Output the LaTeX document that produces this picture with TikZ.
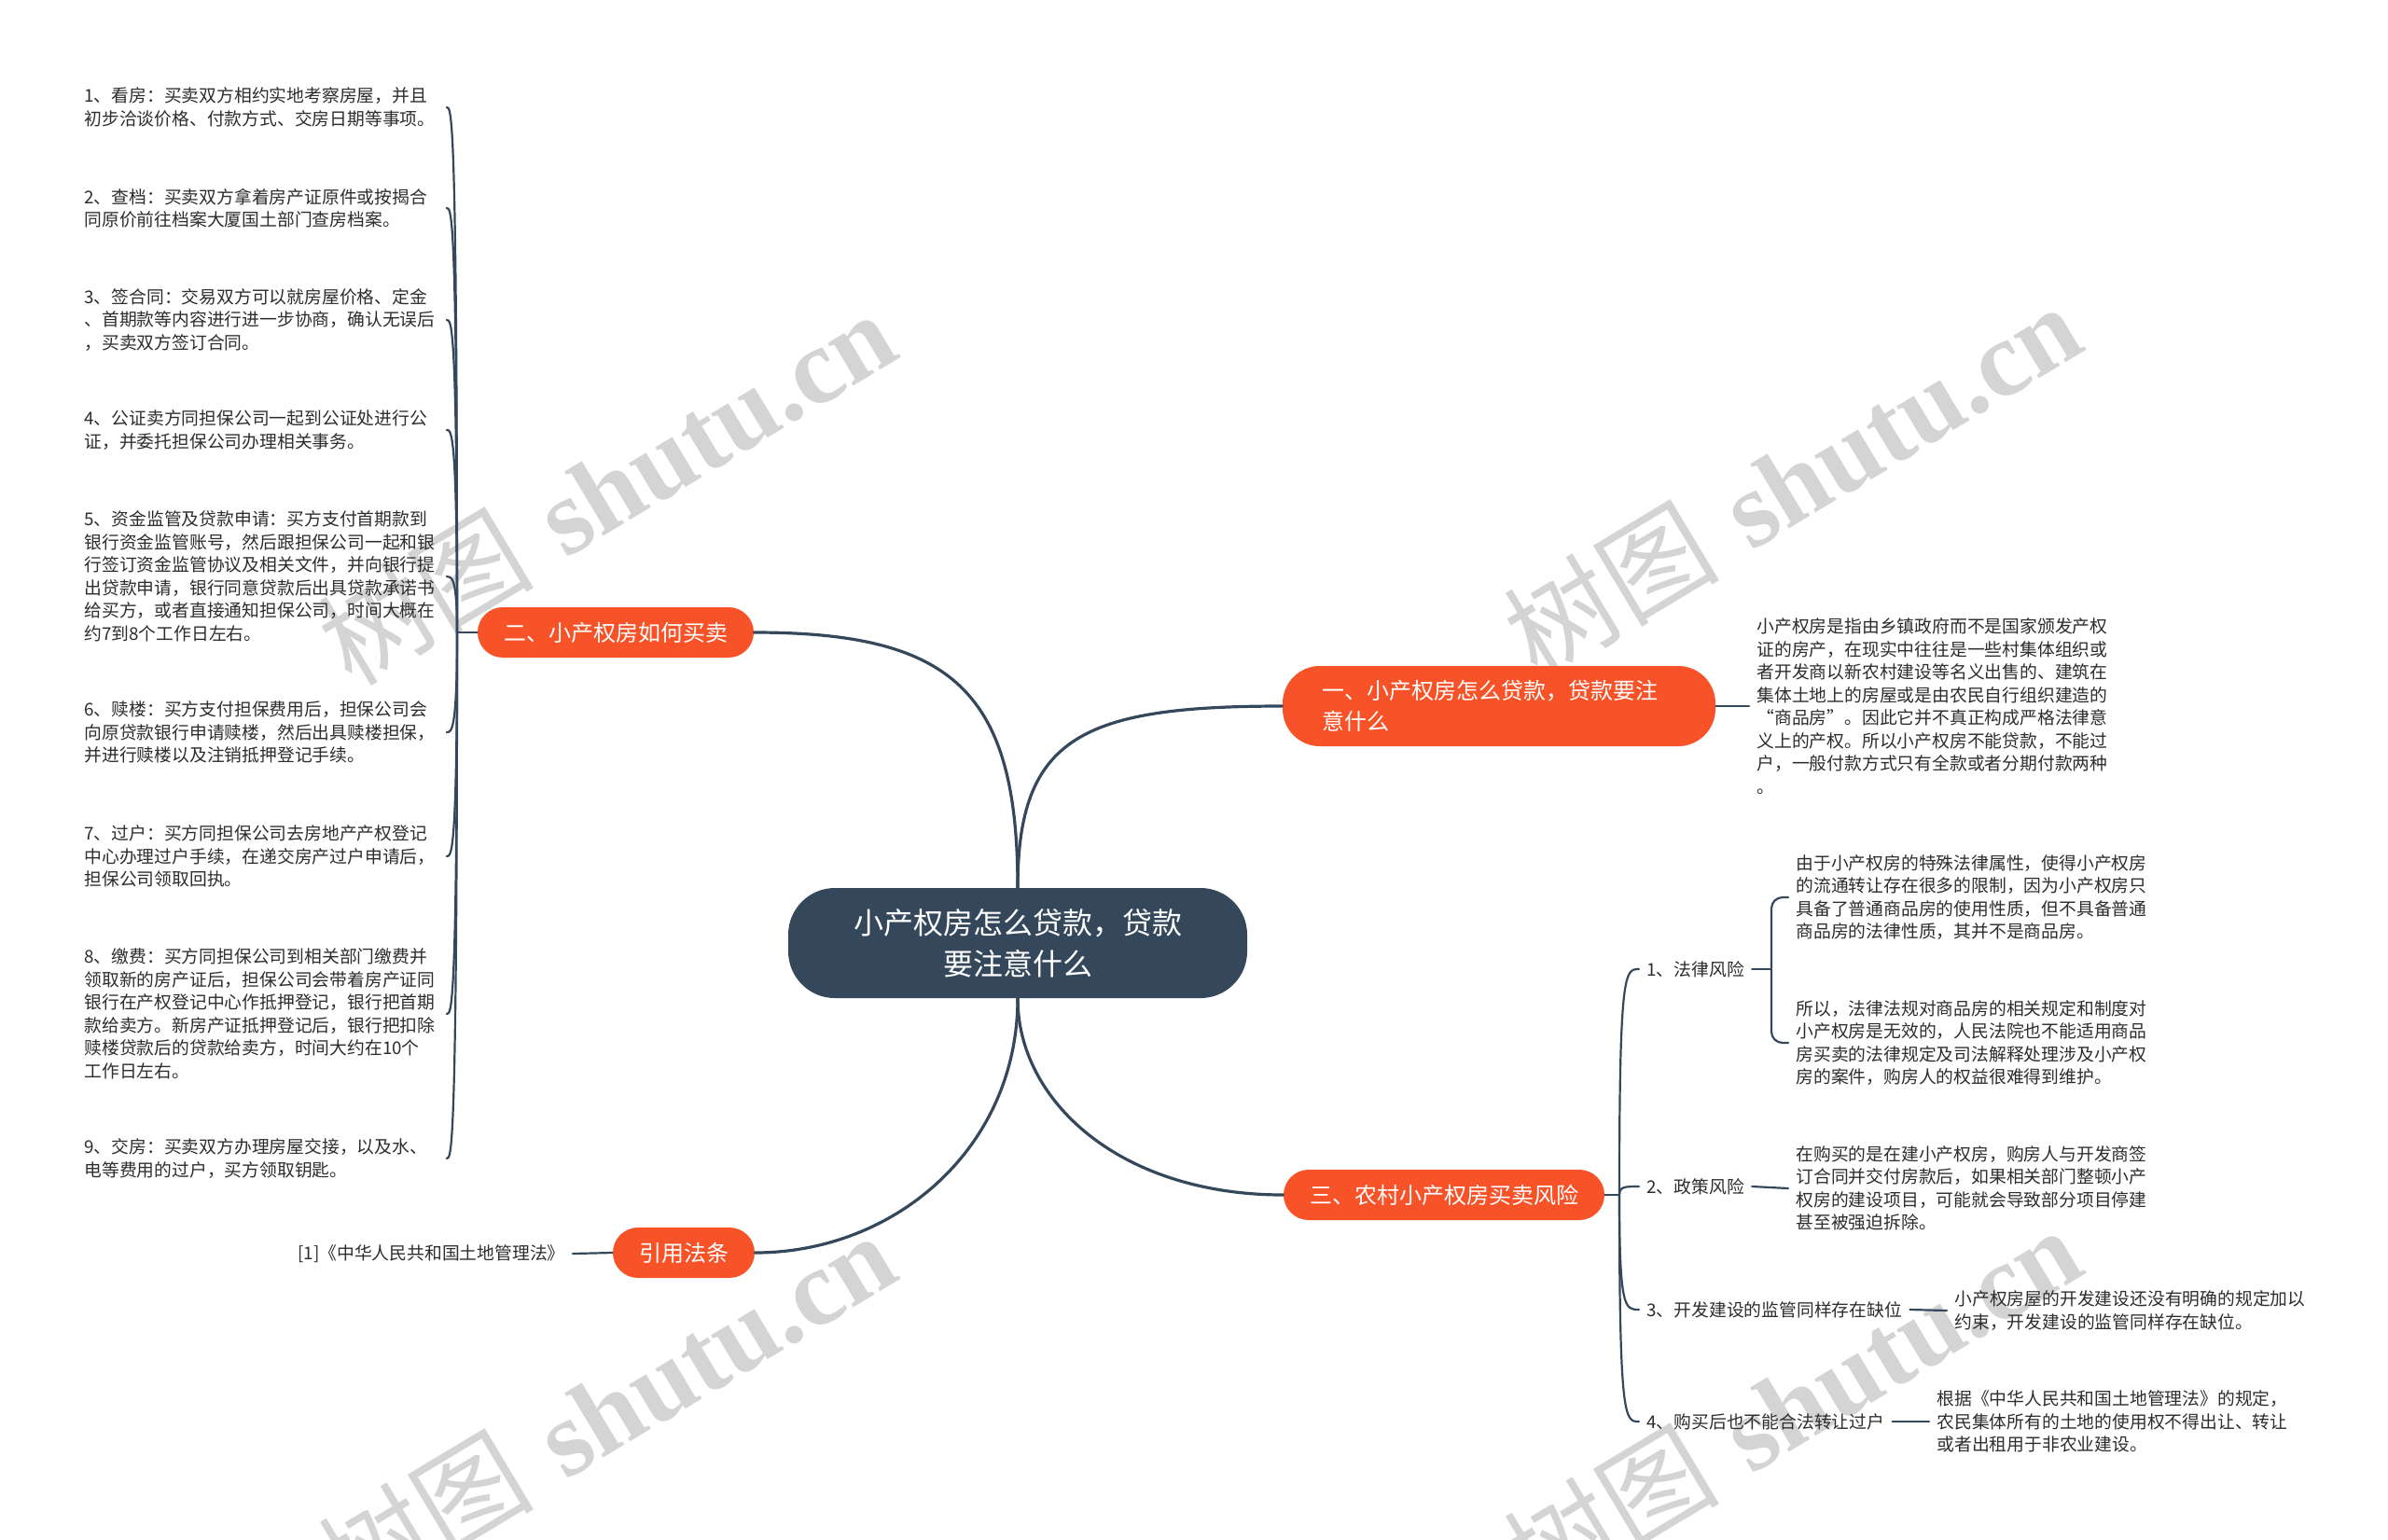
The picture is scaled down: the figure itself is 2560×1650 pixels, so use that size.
\documentclass[tikz,border=0pt]{standalone}
\usepackage{fontspec}
\newfontfamily\cjk{Noto Sans CJK SC}
\newfontfamily\wmserif{Liberation Serif}
\definecolor{slate}{RGB}{53,72,91}
\definecolor{flame}{RGB}{247,82,40}
\definecolor{ink}{RGB}{45,45,45}
\begin{document}
\begin{tikzpicture}[x=0.5pt, y=-0.5pt, line join=round, line cap=round,
	main/.style={fill=slate, text=white, rounded corners=25pt, font=\cjk\fontsize{16}{22}\selectfont, align=center, inner xsep=35pt, minimum height=59pt},
	topic/.style={fill=flame, text=white, rounded corners=13.5pt, font=\cjk\fontsize{12}{16.5}\selectfont, inner xsep=14pt, minimum height=27pt},
	leaf/.style={text=ink, font=\cjk\fontsize{9.4}{12.25}\selectfont, align=left, inner xsep=4pt, inner ysep=2pt},
	link/.style={draw=slate, line width=1.6pt},
	twig/.style={draw=slate, line width=1.1pt},
	wmark/.style={text=black!17, font=\fontsize{58}{62}\selectfont, rotate=31}]
	\useasboundingbox[fill=white] (0,0) rectangle (2560,1650);
	\foreach \n/\p in {1/{(650,522)},2/{(1921,514)},3/{(650,1510)},4/{(1921,1504)}}
	\node[wmark] (wm\n) at \p {{\cjk 树图} {\wmserif\bfseries shutu.cn}};
	\node[main] (root) at (1091,1011) {小产权房怎么贷款，贷款\\要注意什么};
	\node[topic, text width=190pt, align=left, inner xsep=21pt, minimum height=43pt, rounded corners=20pt] (t1) at (1607,757) {一、小产权房怎么贷款，贷款要注\\意什么};
	\node[topic] (t2) at (660,678) {二、小产权房如何买卖};
	\node[topic] (t3) at (1548,1281) {三、农村小产权房买卖风险};
	\node[topic] (t4) at (733,1343) {引用法条};
	\draw[link] (root.north) .. controls (1091,790) and (1160,757) .. (t1.west);
	\draw[link] (root.north) .. controls (1091,740) and (1020,678) .. (t2.east);
	\draw[link] (root.south) .. controls (1091,1180) and (1200,1281) .. (t3.west);
	\draw[link] (root.south) .. controls (1091,1230) and (960,1343) .. (t4.east);
	\node[leaf, anchor=west] (d1) at (1875,757) {小产权房是指由乡镇政府而不是国家颁发产权\\证的房产，在现实中往往是一些村集体组织或\\者开发商以新农村建设等名义出售的、建筑在\\集体土地上的房屋或是由农民自行组织建造的\\“商品房”。因此它并不真正构成严格法律意\\义上的产权。所以小产权房不能贷款，不能过\\户，一般付款方式只有全款或者分期付款两种\\。};
	\draw[twig] (t1.east) -- (d1.west);
	\coordinate (f2) at (490,678);
	\draw[twig] (t2.west) -- (f2);
	\foreach \i/\y/\txt in {1/115/{1、看房：买卖双方相约实地考察房屋，并且\\初步洽谈价格、付款方式、交房日期等事项。},
		2/223/{2、查档：买卖双方拿着房产证原件或按揭合\\同原价前往档案大厦国土部门查房档案。},
		3/343/{3、签合同：交易双方可以就房屋价格、定金\\、首期款等内容进行进一步协商，确认无误后\\，买卖双方签订合同。},
		4/461/{4、公证卖方同担保公司一起到公证处进行公\\证，并委托担保公司办理相关事务。},
		5/618/{5、资金监管及贷款申请：买方支付首期款到\\银行资金监管账号，然后跟担保公司一起和银\\行签订资金监管协议及相关文件，并向银行提\\出贷款申请，银行同意贷款后出具贷款承诺书\\给买方，或者直接通知担保公司，时间大概在\\约7到8个工作日左右。},
		6/785/{6、赎楼：买方支付担保费用后，担保公司会\\向原贷款银行申请赎楼，然后出具赎楼担保，\\并进行赎楼以及注销抵押登记手续。},
		7/918/{7、过户：买方同担保公司去房地产产权登记\\中心办理过户手续，在递交房产过户申请后，\\担保公司领取回执。},
		8/1087/{8、缴费：买方同担保公司到相关部门缴费并\\领取新的房产证后，担保公司会带着房产证同\\银行在产权登记中心作抵押登记，银行把首期\\款给卖方。新房产证抵押登记后，银行把扣除\\赎楼贷款后的贷款给卖方，时间大约在10个\\工作日左右。},
		9/1242/{9、交房：买卖双方办理房屋交接，以及水、\\电等费用的过户，买方领取钥匙。}}
	{\node[leaf, text width=190pt, anchor=west] (s\i) at (82,\y) {\txt};
	\draw[twig] (f2) .. controls (490,\y) and (484,\y) .. (s\i.east);}
	\coordinate (f3) at (1736,1281);
	\draw[twig] (t3.east) -- (f3);
	\foreach \i/\y/\txt in {1/1039/1、法律风险,2/1272/2、政策风险,3/1404/3、开发建设的监管同样存在缺位,4/1524/4、购买后也不能合法转让过户}
	{\node[leaf, anchor=west] (r\i) at (1757,\y) {\txt};
	\draw[twig] (f3) .. controls (1736,\y) and (1742,\y) .. (r\i.west);}
	\node[leaf, anchor=west] (e1) at (1917,962) {由于小产权房的特殊法律属性，使得小产权房\\的流通转让存在很多的限制，因为小产权房只\\具备了普通商品房的使用性质，但不具备普通\\商品房的法律性质，其并不是商品房。};
	\node[leaf, anchor=west] (e2) at (1917,1118) {所以，法律法规对商品房的相关规定和制度对\\小产权房是无效的，人民法院也不能适用商品\\房买卖的法律规定及司法解释处理涉及小产权\\房的案件，购房人的权益很难得到维护。};
	\coordinate (br) at (1899,1039);
	\draw[twig] (r1.east) -- (br);
	\draw[twig, rounded corners=6pt] (e1.west) -| (br) |- (e2.west);
	\node[leaf, anchor=west] (e3) at (1917,1274) {在购买的是在建小产权房，购房人与开发商签\\订合同并交付房款后，如果相关部门整顿小产\\权房的建设项目，可能就会导致部分项目停建\\甚至被强迫拆除。};
	\draw[twig] (r2.east) -- (e3.west);
	\node[leaf, anchor=west] (e4) at (2087,1405) {小产权房屋的开发建设还没有明确的规定加以\\约束，开发建设的监管同样存在缺位。};
	\draw[twig] (r3.east) -- (e4.west);
	\node[leaf, anchor=west] (e5) at (2068,1524) {根据《中华人民共和国土地管理法》的规定，\\农民集体所有的土地的使用权不得出让、转让\\或者出租用于非农业建设。};
	\draw[twig] (r4.east) -- (e5.west);
	\node[leaf, anchor=east] (law) at (614,1344) {[1]《中华人民共和国土地管理法》};
	\draw[twig] (law.east) -- (t4.west);
\end{tikzpicture}
\end{document}
